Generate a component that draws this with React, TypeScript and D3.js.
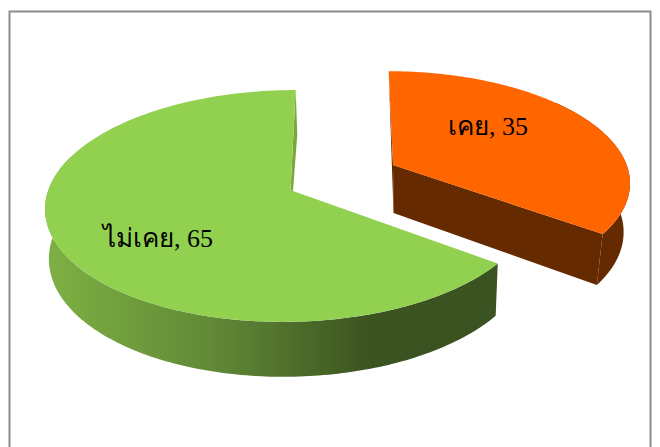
import React from "react";
import * as d3 from "d3";

const categories = ["เคย", "ไม่เคย"];
const values = [35, 65];
const topColors = ["#ff6600", "#92d050"];

const W = 660;
const H = 447;
const vanishX = 340;
const persp = 0.129;
const slices = [
  { cx: 395, cy: 166, rx: 232, ry: 107, ax: 393, ay: 165, base: 0.978 },
  { cx: 290, cy: 191, rx: 242, ry: 114, ax: 293, ay: 191, base: 0.987 },
];
const labelPos = [
  { x: 448, y: 135 },
  { x: 103, y: 246.5 },
];

type P = [number, number];

function project(i: number, theta: number): P {
  const s = slices[i];
  const wx = Math.sin(theta);
  const wy = -Math.cos(theta);
  const k = 1 / (1 - persp * wy);
  return [vanishX + (s.cx - vanishX + s.rx * wx) * k, s.cy + s.ry * wy * k];
}
function drop(y: number): number {
  return y * 1.0445 + 40.6;
}
function lower(i: number, [x, y]: P): P {
  return [vanishX + (x - vanishX) * slices[i].base, drop(y)];
}

const line = d3.line<P>();

export default function App() {
  const arcs = d3.pie<number>().sort(null)(values);

  const rim = (i: number, a0: number, a1: number) =>
    d3.range(0, 161).map((n) => project(i, a0 + ((a1 - a0) * n) / 160));

  const apexes: P[] = slices.map((s) => [s.ax, s.ay]);
  const notch: P = [apexes[1][0] - 2.5, apexes[1][1] - 0.5];

  const oPts = rim(0, arcs[0].startAngle, arcs[0].endAngle);
  const gAll = rim(1, arcs[1].startAngle, arcs[1].endAngle);
  const oFace = line([apexes[0], ...oPts]) + "Z";
  const gFace = line([apexes[1], ...gAll, notch]) + "Z";

  // orange slice walls
  const oStart = oPts[0];
  const oEnd = oPts[oPts.length - 1];
  const oApexLow: P = [apexes[0][0] + 0.5, drop(apexes[0][1])];
  const oFront = rim(0, arcs[0].endAngle * 0.4, arcs[0].endAngle);
  const oOuter = line([...oFront, ...oFront.slice().reverse().map((p) => lower(0, p))]) + "Z";
  const oCutA = line([oStart, apexes[0], oApexLow]) + "Z";
  const oCutB = line([apexes[0], oEnd, lower(0, oEnd), oApexLow]) + "Z";

  // green slice walls (only the front of the rim shows)
  const gPts = rim(1, arcs[1].startAngle, Math.PI * 1.6);
  const gStart = gAll[gAll.length - 1];
  const gStartLow = lower(1, gStart);
  const gOuter = line([...gPts, ...gPts.slice().reverse().map((p) => lower(1, p))]) + "Z";
  const gCut = line([gStart, [gStartLow[0] + 1, gStartLow[1]], apexes[1], notch]) + "Z";

  const gradX = d3.scaleLinear().domain([0, 1]).range([48, 372]);

  return (
    <svg
      width={W}
      height={H}
      viewBox={`0 0 ${W} ${H}`}
      style={{ position: "fixed", left: 0, top: 0, background: "#fff" }}
    >
      <defs>
        <linearGradient
          id="gw"
          gradientUnits="userSpaceOnUse"
          x1={gradX(0)}
          x2={gradX(1)}
          y1={0}
          y2={0}
        >
          <stop offset="0" stopColor="#7db043" />
          <stop offset="0.5" stopColor="#628a37" />
          <stop offset="1" stopColor="#3b5320" />
        </linearGradient>
      </defs>
      <rect x={0} y={0} width={W} height={H} fill="#fff" />
      <path
        d={`M9.5 ${H}V11.5H650.5V${H}`}
        fill="none"
        stroke="#8c8c8c"
        strokeWidth={2}
      />
      <path d={gOuter} fill="url(#gw)" />
      <path d={gCut} fill="#7aa83f" />
      <path d={gFace} fill={topColors[1]} />
      <path d={oCutA} fill="#662a00" />
      <path d={oOuter} fill="#662a00" />
      <path d={oCutB} fill="#662a00" />
      <path d={oFace} fill={topColors[0]} />
      {categories.map((c, i) => (
        <text
          key={c}
          x={labelPos[i].x}
          y={labelPos[i].y}
          fontFamily="'Liberation Serif', 'Noto Sans', serif"
          fontSize={26}
          fill="#000"
        >
          {`${c}, ${values[i]}`}
        </text>
      ))}
    </svg>
  );
}
